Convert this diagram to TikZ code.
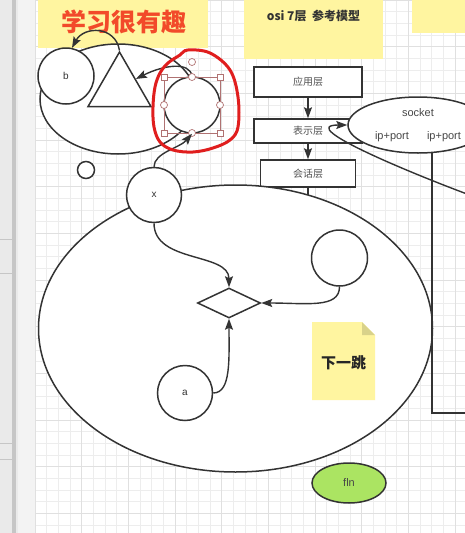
\documentclass[tikz,border=0pt]{standalone}
\usepackage{fontspec}
\setmainfont{Liberation Sans}
\newfontfamily\cjk{Noto Sans CJK SC}
\usetikzlibrary{arrows.meta, shapes.geometric, positioning}

\definecolor{linec}{HTML}{333333}
\definecolor{notey}{HTML}{FFF5A0}
\definecolor{foldy}{HTML}{D9D28A}
\definecolor{titlered}{HTML}{F24A2A}
\definecolor{penred}{HTML}{E01E1E}
\definecolor{selc}{HTML}{B07272}
\definecolor{flngreen}{HTML}{ABE462}
\definecolor{gridmin}{HTML}{EDEDED}
\definecolor{gridmaj}{HTML}{E0E0E0}
\definecolor{sidea}{HTML}{EAEAEA}
\definecolor{sideb}{HTML}{C6C6C6}
\definecolor{sidec}{HTML}{F3F3F3}

\tikzset{
  figline/.style={draw=linec, line width=1.5pt, fill=white, inner sep=0pt},
  circ/.style={figline, circle, minimum size=56pt, font=\fontsize{10}{12}\selectfont, text=linec},
  conn/.style={draw=linec, line width=1.4pt, -{Stealth[length=11pt,width=8pt,inset=2pt]}},
  layer/.style={figline, rectangle, minimum width=108pt, font=\cjk\fontsize{10}{12}\selectfont, text=linec!85},
  note/.style={fill=notey, inner sep=0pt},
  handle/.style={draw=selc, line width=0.7pt, fill=white},
  lbl/.style={font=\fontsize{11}{13}\selectfont, text=linec!90}
}

\begin{document}
\begin{tikzpicture}[x=1pt, y=-1pt]
  \useasboundingbox (0,0) rectangle (465,533);
  \clip (0,0) rectangle (465,533);

  % side bar and canvas grid
  \fill[sidea] (0,0) rectangle (12,533);
  \fill[sideb] (12,0) rectangle (16,533);
  \fill[sidea] (16,0) rectangle (18,533);
  \fill[sidec] (18,0) rectangle (35,533);
  \foreach \sy in {239,273,443,459}
    \draw[sideb, line width=0.6pt] (0,\sy) -- (12,\sy);
  \foreach \i in {0,...,37}
    \draw[gridmin, line width=0.6pt] ({35+11.667*\i},0) -- ++(0,533);
  \foreach \j in {0,...,46}
    \draw[gridmin, line width=0.6pt] (35,{11.667*\j}) -- ++(430,0);
  \foreach \i in {0,...,9}
    \draw[gridmaj, line width=0.7pt] ({35+46.667*\i},0) -- ++(0,533);
  \foreach \j in {0,...,11}
    \draw[gridmaj, line width=0.7pt] (35,{46.667*\j}) -- ++(430,0);

  % notes on top
  \node[note, minimum width=170pt, minimum height=80pt] (tnote) at (123,8) {};
  \node[font=\cjk\bfseries\fontsize{25}{28}\selectfont, text=titlered] (title) at (124,22) {学习很有趣};
  \node[note, minimum width=139pt, minimum height=86pt, font=\cjk\bfseries\fontsize{12}{14}\selectfont, text=linec] (osinote) at (313.5,16) {osi 7层\ \ 参考模型};
  \node[note, minimum width=60pt, minimum height=40pt] (rnote) at (442,13) {};

  % top left group
  \node[figline, ellipse, minimum width=156pt, minimum height=110pt] (topell) at (118,99) {};
  \node[circ] (b) at (66,76) {b};
  \node[figline, regular polygon, regular polygon sides=3, minimum size=72.7pt] (tri) at (119.5,88.4) {};
  \node[circ] (sel) at (192,105) {};
  \draw[conn] (tri.corner 1) .. controls +(-4,-25) and +(12,-22) .. (b.78);
  \draw[conn] (sel.north) .. controls +(-2,-15) and +(28,-14) .. (tri.side 3);

  % selection frame
  \draw[selc, line width=0.7pt] (164,77) rectangle (220,133);
  \foreach \hx/\hy in {164/77,220/77,164/133,220/133}
    \draw[handle] ({\hx-3},{\hy-3}) rectangle ({\hx+3},{\hy+3});
  \foreach \hx/\hy in {192/77,192/133,164/105,220/105,192/62}
    \draw[handle] (\hx,\hy) circle[radius=3.5];

  \node[circ, minimum size=17pt] (dot) at (86,170) {};

  % osi layers
  \node[layer, minimum height=30pt] (app) at (308,82) {应用层};
  \node[layer, minimum height=24pt] (pres) at (308,131) {表示层};
  \node[layer, minimum width=95pt, minimum height=27pt] (sess) at (308,173.5) {会话层};
  \coordinate (sessend) at (308,197);
  \draw[conn] (app) -- (pres);
  \draw[conn] (pres) -- (sess);
  \draw[linec, line width=1.4pt] (sess.south) -- (sessend);

  % big group
  \node[figline, ellipse, minimum width=394pt, minimum height=287pt] (big) at (235.5,328.5) {};
  \node[draw=linec, line width=1.5pt, minimum width=50pt, minimum height=272pt, anchor=north west] (rbox) at (431,140) {};

  % socket
  \node[figline, ellipse, minimum width=140pt, minimum height=56pt] (sock) at (418,125) {};
  \node[lbl] (socklbl) at (418,113) {socket};
  \node[lbl] (ip1) at (392,137) {ip+port};
  \node[lbl] (ip2) at (444,137) {ip+port};
  \coordinate (cstart) at (467,194);
  \draw[conn] (cstart) .. controls (416,175) and +(-54,0) .. (sock.west);

  \node[circ, minimum size=55pt] (xc) at (154,195) {x};
  \draw[conn] (xc.north) .. controls +(0,-14) and +(-12,14) .. (sel.south);

  \node[figline, diamond, minimum width=63pt, minimum height=30pt] (dia) at (229,303) {};
  \node[circ] (rc) at (339.5,258) {};
  \node[circ, minimum size=55pt] (ac) at (185,393) {a};
  \draw[conn] (xc.south) .. controls +(0,40) and +(0,-35) .. (dia.north);
  \draw[conn] (rc.south) .. controls +(0,22) and +(45,0) .. (dia.east);
  \draw[conn] (ac.east) .. controls +(18,0) and +(0,40) .. (dia.south);

  % next hop note
  \fill[notey] (312,322) -- (362,322) -- (375,335) -- (375,400) -- (312,400) -- cycle;
  \fill[foldy] (362,322) -- (375,335) -- (362,335) -- cycle;
  \node[font=\cjk\bfseries\fontsize{15}{17}\selectfont, text=black!85] (hop) at (343.5,363) {下一跳};

  \node[figline, ellipse, fill=flngreen, minimum width=74pt, minimum height=40pt, lbl] (fln) at (349,483) {fln};

  % red pen mark
  \draw[penred, line width=3pt, line cap=round] plot[smooth cycle, tension=0.6] coordinates {(188,50) (210,53) (230,70) (238,97) (238,127) (230,140) (213,148) (193,152) (173,150) (160,142) (154,127) (153,107) (155,87) (160,73) (168,63) (180,55)};
\end{tikzpicture}
\end{document}
